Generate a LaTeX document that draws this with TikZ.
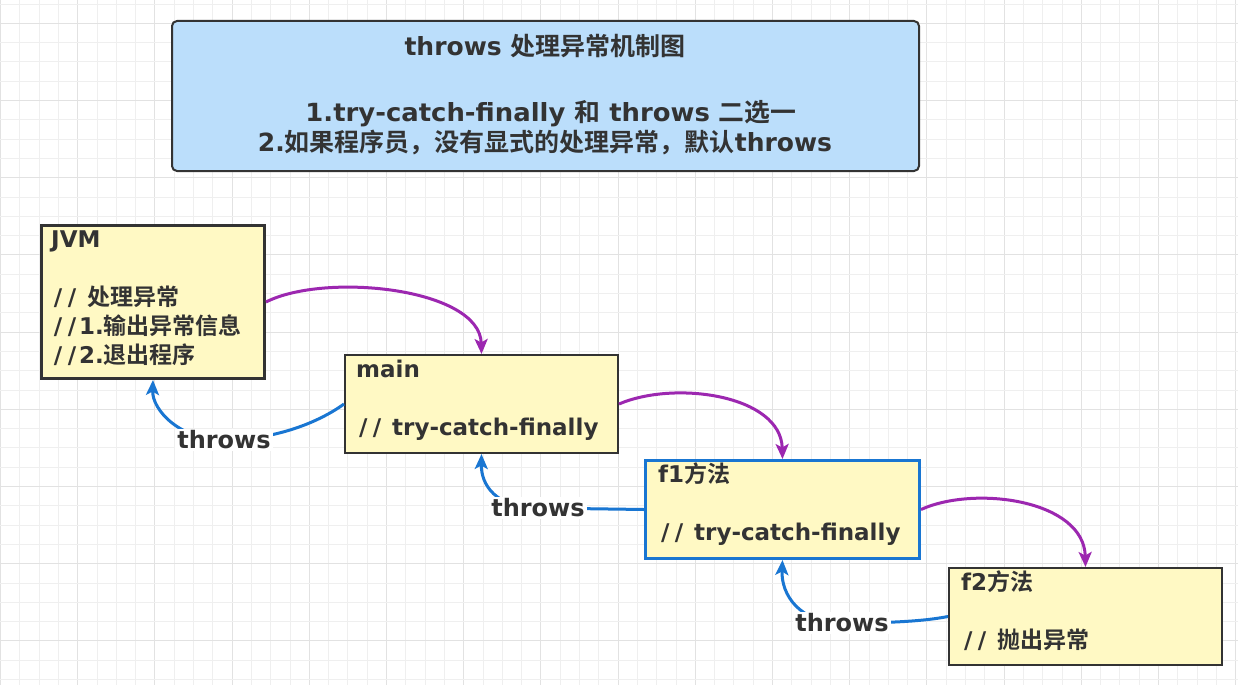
\documentclass[tikz,border=0pt]{standalone}
\usepackage{fontspec}
\setmainfont{DejaVu Sans}
\newfontfamily\cjkfont{Noto Sans CJK SC}[BoldFont=* Bold]
\newcommand\zh[1]{{\cjkfont #1}}
\newcommand\slsl{\hbox to 14pt{\hss/\hss}\hbox to 14pt{\hss/\hss}}
\newcommand\boxlines[1]{\vtop{\baselineskip=29pt\lineskiplimit=-30pt\lineskip=0pt #1}}
\usetikzlibrary{arrows.meta}
\definecolor{txt}{HTML}{333333}
\definecolor{gridminor}{HTML}{EFEFEF}
\definecolor{gridmajor}{HTML}{E2E2E2}
\definecolor{titlefill}{HTML}{BBDEFB}
\definecolor{notefill}{HTML}{FFF9C4}
\definecolor{purp}{HTML}{9C27B0}
\definecolor{bluel}{HTML}{1976D2}
\begin{document}
\begin{tikzpicture}[x=1pt,y=-1pt,
  every node/.style={text=txt},
  notebox/.style={draw=txt, fill=notefill, line width=2pt, inner sep=0pt, anchor=north west},
  notetext/.style={anchor=base west, inner sep=0pt, font=\fontsize{23}{29}\selectfont\bfseries},
  titletext/.style={anchor=base, inner sep=0pt, font=\fontsize{25}{31}\selectfont\bfseries},
  lbl/.style={fill=white, inner sep=2pt, font=\fontsize{24}{29}\selectfont\bfseries},
  callarrow/.style={draw=purp, line width=3pt, -{Stealth[length=15pt,width=13pt,inset=3.5pt]}},
  throwarrow/.style={draw=bluel, line width=3pt, -{Stealth[length=15pt,width=13pt,inset=3.5pt]}}
]
\useasboundingbox (0,0) rectangle (1238,685);
\fill[white] (0,0) rectangle (1238,685);
% grid
\foreach \i in {0,...,64} {
  \pgfmathsetmacro\gx{round(\i*19.3)+0.5}
  \pgfmathtruncatemacro\gm{mod(\i,4)}
  \ifnum\gm=0 \draw[gridmajor, line width=1pt] (\gx,0) -- (\gx,685);
  \else \draw[gridminor, line width=1pt] (\gx,0) -- (\gx,685); \fi
}
\foreach \j in {0,...,35} {
  \pgfmathsetmacro\gy{round(3.5+\j*19.3)+0.5}
  \pgfmathtruncatemacro\gm{mod(\j,4)}
  \ifnum\gm=1 \draw[gridmajor, line width=1pt] (0,\gy) -- (1238,\gy);
  \else \draw[gridminor, line width=1pt] (0,\gy) -- (1238,\gy); \fi
}

% title
\node[draw=txt, fill=titlefill, line width=2pt, rounded corners=5pt, inner sep=0pt,
      minimum width=747pt, minimum height=150pt, anchor=north west] (title) at (171,20) {};
\node[titletext] (t1) at (545,56) {throws \zh{处理异常机制图}};
\node[titletext] (t2) at (551,121) {\scalebox{1.035}[1]{1.try-catch-finally \zh{和} throws \zh{二选一}}};
\node[titletext] (t3) at (545,151) {2.\zh{如果程序员，没有显式的处理异常，默认}throws};

% boxes
\node[notebox, line width=3pt, minimum width=223pt, minimum height=153pt] (jvm) at (40,224) {};
\node[notetext] (jvmtxt) at ([shift={(11,23)}]jvm.north west)
  {\boxlines{\hbox{JVM}\hbox{}\hbox{\slsl\ \zh{处理异常}}\hbox{\slsl 1.\zh{输出异常信息}}\hbox{\slsl 2.\zh{退出程序}}}};

\node[notebox, minimum width=273pt, minimum height=98pt] (main) at (344,354) {};
\node[notetext] (maintxt) at ([shift={(12,23)}]main.north west)
  {\boxlines{\hbox{main}\hbox{}\hbox{\slsl\ try-catch-finally}}};

\node[notebox, draw=bluel, line width=3pt, minimum width=274pt, minimum height=98pt] (f1) at (644,459) {};
\node[notetext] (f1txt) at ([shift={(14,23)}]f1.north west)
  {\boxlines{\hbox{f1\zh{方法}}\hbox{}\hbox{\slsl\ try-catch-finally}}};

\node[notebox, minimum width=273pt, minimum height=97pt] (f2) at (948,567) {};
\node[notetext] (f2txt) at ([shift={(13,23)}]f2.north west)
  {\boxlines{\hbox{f2\zh{方法}}\hbox{}\hbox{\slsl\ \zh{抛出异常}}}};

% call arrows (purple)
\draw[callarrow] (jvm.east) .. controls (325,272) and (480,288) .. (main.north);
\draw[callarrow] (main.east) .. controls (675,380) and (781,395) .. (f1.north);
\draw[callarrow] (f1.east) .. controls (975,485) and (1084,500) .. (f2.north);

% throws arrows (blue)
\coordinate (c1) at (224,440);
\coordinate (c2) at (538,508);
\coordinate (c3) at (842,623);
\draw[throwarrow] (main.west) .. controls (315,425) and (270,440) .. (c1)
  .. controls (180,440) and (152,410) .. (jvm.south);
\draw[throwarrow] (f1.west) -- (c2) .. controls (496,508) and (481,485) .. (main.south);
\draw[throwarrow] (f2.west) .. controls (920,622) and (880,623) .. (c3)
  .. controls (800,623) and (781,595) .. (f1.south);
\node[lbl] (l1) at (c1) {throws};
\node[lbl] (l2) at (c2) {throws};
\node[lbl] (l3) at (c3) {throws};
\end{tikzpicture}
\end{document}
